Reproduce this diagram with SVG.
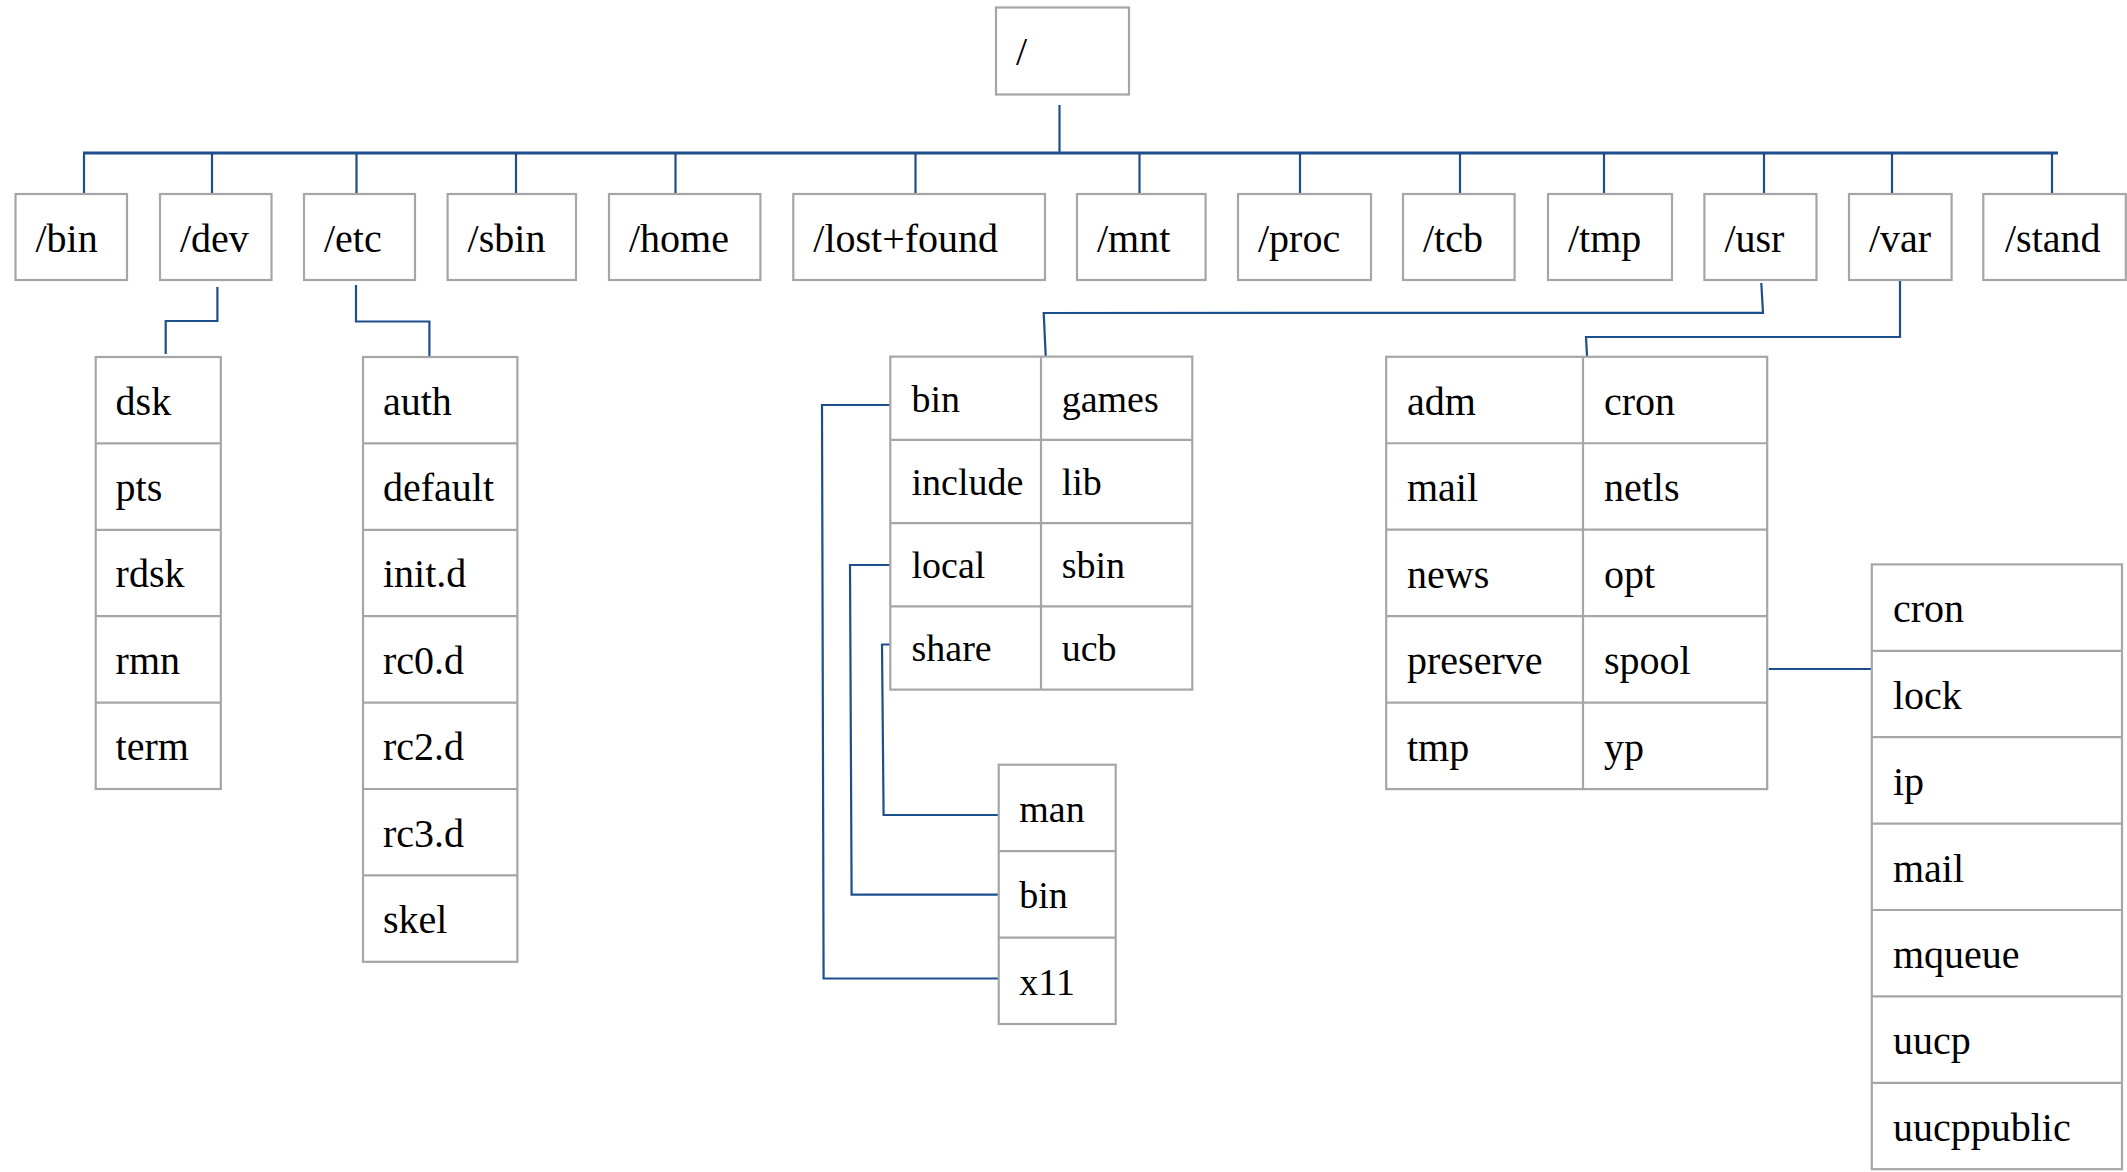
<svg xmlns="http://www.w3.org/2000/svg" width="2127" height="1172" viewBox="0 0 2127 1172">
<style>
.box{fill:#ffffff;stroke:#a6a6a6;stroke-width:2.2}
.sep{stroke:#a6a6a6;stroke-width:2.2;fill:none}
.lbl{font-size:40px;fill:#000}
.sm{font-size:38px}
.con{fill:none;stroke:#1f4e8c;stroke-width:2.2}
.bus{fill:none;stroke:#1f4e8c;stroke-width:3}
</style>
<rect width="2127" height="1172" fill="#ffffff"/>
<g id="connectors">
<line class="con" x1="1059.5" y1="105" x2="1059.5" y2="153"/>
<line class="bus" x1="83" y1="153" x2="2058" y2="153"/>
<line class="con" x1="84" y1="153" x2="84" y2="196"/>
<line class="con" x1="212" y1="153" x2="212" y2="196"/>
<line class="con" x1="356.5" y1="153" x2="356.5" y2="196"/>
<line class="con" x1="516" y1="153" x2="516" y2="196"/>
<line class="con" x1="675.5" y1="153" x2="675.5" y2="196"/>
<line class="con" x1="915.5" y1="153" x2="915.5" y2="196"/>
<line class="con" x1="1139.5" y1="153" x2="1139.5" y2="196"/>
<line class="con" x1="1300" y1="153" x2="1300" y2="196"/>
<line class="con" x1="1460" y1="153" x2="1460" y2="196"/>
<line class="con" x1="1604" y1="153" x2="1604" y2="196"/>
<line class="con" x1="1764" y1="153" x2="1764" y2="196"/>
<line class="con" x1="1892" y1="153" x2="1892" y2="196"/>
<line class="con" x1="2052" y1="153" x2="2052" y2="196"/>
<polyline class="con" points="217.4,287 217.4,321 165.7,321 165.7,354"/>
<polyline class="con" points="356,285 356,321.5 429.4,321.5 429.4,357"/>
<polyline class="con" points="1761.3,283 1763,312.8 1043.7,313 1045.7,356"/>
<polyline class="con" points="1900,281 1900,337 1586,337 1587,356"/>
<line class="con" x1="1768.7" y1="669" x2="1874" y2="669"/>
<polyline class="con" points="890.3,405 822,405 823.6,978.5 998.7,978.5"/>
<polyline class="con" points="890.3,565 850,565 851.6,894.6 998.7,894.6"/>
<polyline class="con" points="890.3,644.5 882,644.5 883.6,815 998.7,815"/>
</g>
<g font-family="Liberation Serif, Tinos, Times New Roman, serif">
<g id="root"><rect class="box" x="996" y="7.5" width="133" height="87"/><text class="lbl" x="1016" y="65">/</text></g>
<g id="n-bin"><rect class="box" x="15.5" y="194" width="111.5" height="86"/><text class="lbl" x="35.5" y="252">/bin</text></g>
<g id="n-dev"><rect class="box" x="160" y="194" width="111.5" height="86"/><text class="lbl" x="180" y="252">/dev</text></g>
<g id="n-etc"><rect class="box" x="304" y="194" width="111" height="86"/><text class="lbl" x="324" y="252">/etc</text></g>
<g id="n-sbin"><rect class="box" x="447.6" y="194" width="128.4" height="86"/><text class="lbl" x="467.6" y="252">/sbin</text></g>
<g id="n-home"><rect class="box" x="609" y="194" width="151.4" height="86"/><text class="lbl" x="629" y="252">/home</text></g>
<g id="n-lostfound"><rect class="box" x="793.3" y="194" width="251.7" height="86"/><text class="lbl" x="813.3" y="252">/lost+found</text></g>
<g id="n-mnt"><rect class="box" x="1077" y="194" width="128.6" height="86"/><text class="lbl" x="1097" y="252">/mnt</text></g>
<g id="n-proc"><rect class="box" x="1238" y="194" width="133" height="86"/><text class="lbl" x="1258" y="252">/proc</text></g>
<g id="n-tcb"><rect class="box" x="1403" y="194" width="111.6" height="86"/><text class="lbl" x="1423" y="252">/tcb</text></g>
<g id="n-tmp"><rect class="box" x="1548" y="194" width="124" height="86"/><text class="lbl" x="1568" y="252">/tmp</text></g>
<g id="n-usr"><rect class="box" x="1704.4" y="194" width="112.1" height="86"/><text class="lbl" x="1724.4" y="252">/usr</text></g>
<g id="n-var"><rect class="box" x="1849" y="194" width="102.6" height="86"/><text class="lbl" x="1869" y="252">/var</text></g>
<g id="n-stand"><rect class="box" x="1983.3" y="194" width="142.5" height="86"/><text class="lbl" x="2005" y="252">/stand</text></g>
<g id="dev-list">
<rect class="box" x="95.7" y="357" width="125.1" height="432"/>
<path class="sep" d="M95.7 443.4H220.8M95.7 529.8H220.8M95.7 616.2H220.8M95.7 702.6H220.8"/>
<text class="lbl" x="115.6" y="414.5">dsk</text>
<text class="lbl" x="115.6" y="500.9">pts</text>
<text class="lbl" x="115.6" y="587.3">rdsk</text>
<text class="lbl" x="115.6" y="673.7">rmn</text>
<text class="lbl" x="115.6" y="760.1">term</text>
</g>
<g id="etc-list">
<rect class="box" x="363" y="357" width="154.4" height="604.8"/>
<path class="sep" d="M363 443.4H517.4M363 529.8H517.4M363 616.2H517.4M363 702.6H517.4M363 789H517.4M363 875.4H517.4"/>
<text class="lbl" x="383" y="414.5">auth</text>
<text class="lbl" x="383" y="500.9">default</text>
<text class="lbl" x="383" y="587.3">init.d</text>
<text class="lbl" x="383" y="673.7">rc0.d</text>
<text class="lbl" x="383" y="760.1">rc2.d</text>
<text class="lbl" x="383" y="846.5">rc3.d</text>
<text class="lbl" x="383" y="932.9">skel</text>
</g>
<g id="usr-list">
<rect class="box" x="890.3" y="356.6" width="302" height="333"/>
<path class="sep" d="M1041 356.6V689.6M890.3 439.85H1192.3M890.3 523.1H1192.3M890.3 606.35H1192.3"/>
<text class="lbl sm" x="911.5" y="411.6">bin</text>
<text class="lbl sm" x="911.5" y="494.85">include</text>
<text class="lbl sm" x="911.5" y="578.1">local</text>
<text class="lbl sm" x="911.5" y="661.35">share</text>
<text class="lbl sm" x="1061.7" y="411.6">games</text>
<text class="lbl sm" x="1061.7" y="494.85">lib</text>
<text class="lbl sm" x="1061.7" y="578.1">sbin</text>
<text class="lbl sm" x="1061.7" y="661.35">ucb</text>
</g>
<g id="share-list">
<rect class="box" x="998.7" y="764.7" width="117" height="259.3"/>
<path class="sep" d="M998.7 851.1H1115.7M998.7 937.6H1115.7"/>
<text class="lbl sm" x="1019.3" y="822">man</text>
<text class="lbl sm" x="1019.3" y="908.4">bin</text>
<text class="lbl sm" x="1019.3" y="994.8">x11</text>
</g>
<g id="var-list">
<rect class="box" x="1386.2" y="356.8" width="381" height="432.3"/>
<path class="sep" d="M1583 356.8V789.1M1386.2 443.25H1767.2M1386.2 529.7H1767.2M1386.2 616.15H1767.2M1386.2 702.6H1767.2"/>
<text class="lbl" x="1407" y="414.8">adm</text>
<text class="lbl" x="1407" y="501.25">mail</text>
<text class="lbl" x="1407" y="587.7">news</text>
<text class="lbl" x="1407" y="674.15">preserve</text>
<text class="lbl" x="1407" y="760.6">tmp</text>
<text class="lbl" x="1604" y="414.8">cron</text>
<text class="lbl" x="1604" y="501.25">netls</text>
<text class="lbl" x="1604" y="587.7">opt</text>
<text class="lbl" x="1604" y="674.15">spool</text>
<text class="lbl" x="1604" y="760.6">yp</text>
</g>
<g id="spool-list">
<rect class="box" x="1871.8" y="564.4" width="250.2" height="604.8"/>
<path class="sep" d="M1871.8 650.8H2122M1871.8 737.2H2122M1871.8 823.6H2122M1871.8 910H2122M1871.8 996.4H2122M1871.8 1082.8H2122"/>
<text class="lbl" x="1893" y="622.4">cron</text>
<text class="lbl" x="1893" y="708.8">lock</text>
<text class="lbl" x="1893" y="795.2">ip</text>
<text class="lbl" x="1893" y="881.6">mail</text>
<text class="lbl" x="1893" y="968">mqueue</text>
<text class="lbl" x="1893" y="1054.4">uucp</text>
<text class="lbl" x="1893" y="1140.8">uucppublic</text>
</g>
</g>
</svg>
